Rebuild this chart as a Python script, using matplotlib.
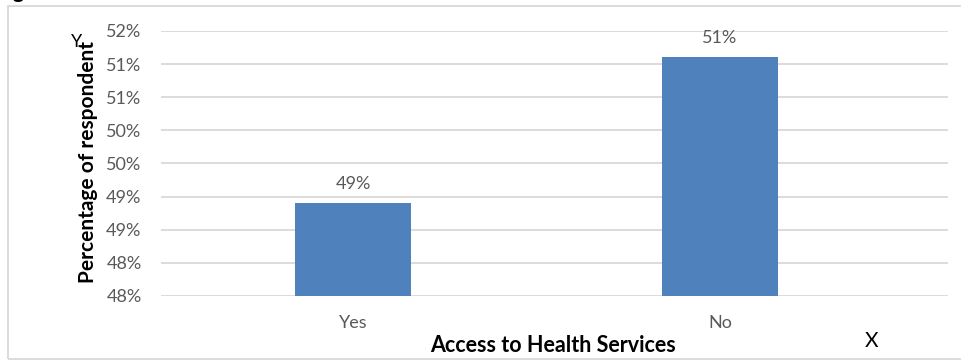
import matplotlib.pyplot as plt
import matplotlib.patches as patches
from matplotlib.ticker import FuncFormatter, MultipleLocator

categories = ["Yes", "No"]
values = [48.9, 51.1]
y_min, y_max = 47.5, 51.5

bar_color = "#4f81bd"
grid_color = "#d9d9d9"
tick_color = "#595959"

W, H = 961, 360
fig = plt.figure(figsize=(W / 100, H / 100), dpi=100)
plt.rcParams['font.family'] = ['Lato', 'DejaVu Sans']

# axes box in pixel coordinates (left, top, right, bottom)
left, top, right, bottom = 161, 31, 948, 296
ax = fig.add_axes([left / W, 1 - bottom / H, (right - left) / W, (bottom - top) / H])

x = [0, 1]
ax.bar(x, values, width=0.316, color=bar_color, zorder=3)
for xi, v in zip(x, values):
    ax.text(xi, v + 0.17, f"{round(v):.0f}%", ha="center", va="bottom", fontsize=13, color=tick_color, zorder=4)

ax.set_xlim(-0.523, 1.621)
ax.set_ylim(y_min, y_max)
ax.yaxis.set_major_locator(MultipleLocator(0.5))
ax.yaxis.set_major_formatter(FuncFormatter(lambda v, p: f"{int(v + 0.5)}%"))
ax.set_xticks(x)
ax.set_xticklabels(categories)
ax.grid(axis="y", color=grid_color, linewidth=1.3, zorder=0)
ax.tick_params(axis="both", length=0, labelsize=13, labelcolor=tick_color)
ax.tick_params(axis="x", pad=14)
ax.tick_params(axis="y", pad=14)
for s in ax.spines.values():
    s.set_visible(False)

# axis titles
fig.text(553 / W, 1 - 345 / H, "Access to Health Services", ha="center", va="center", fontsize=15.5, fontweight="bold")
fig.text(88 / W, 1 - 162 / H, "Percentage of respondent", ha="center", va="center", rotation=90, fontsize=15, fontweight="bold")
fig.text(77 / W, 1 - 42 / H, "Y", ha="center", va="center", fontsize=13)
fig.text(872 / W, 1 - 341 / H, "X", ha="center", va="center", fontsize=15)

# clipped caption at the very top and the chart frame
fig.text(-4 / W, 1 + 1.5 / H, "Figure 6: Access to Health Services", ha="left", va="baseline", fontsize=15, fontweight="bold")
fig.patches.append(patches.Rectangle((8 / W, 1 - 359 / H), 960 / W, 353 / H, transform=fig.transFigure,
                                     fill=False, edgecolor=grid_color, linewidth=1.3))

fig.savefig("out.png", dpi=100)
